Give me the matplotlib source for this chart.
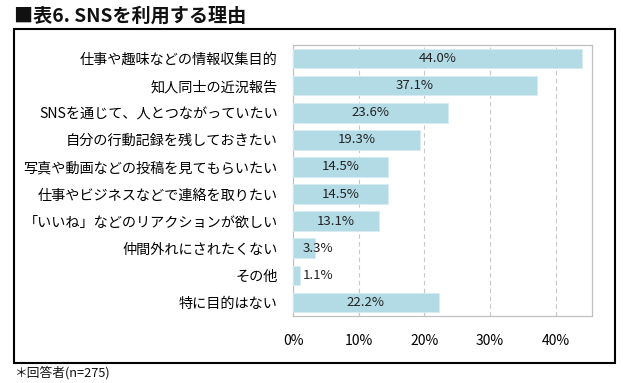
import matplotlib
matplotlib.use("Agg")
import matplotlib.pyplot as plt
from matplotlib.patches import Rectangle

plt.rcParams['font.family'] = ['Noto Sans CJK JP', 'DejaVu Sans']

categories = [
    "仕事や趣味などの情報収集目的",
    "知人同士の近況報告",
    "SNSを通じて、人とつながっていたい",
    "自分の行動記録を残しておきたい",
    "写真や動画などの投稿を見てもらいたい",
    "仕事やビジネスなどで連絡を取りたい",
    "「いいね」などのリアクションが欲しい",
    "仲間外れにされたくない",
    "その他",
    "特に目的はない",
]
values = [44.0, 37.1, 23.6, 19.3, 14.5, 14.5, 13.1, 3.3, 1.1, 22.2]
xticks = [0, 10, 20, 30, 40]
xticklabels = ["0%", "10%", "20%", "30%", "40%"]

W, H = 623, 383
fig = plt.figure(figsize=(W / 100, H / 100), dpi=100)
ax = fig.add_axes([293 / W, 1 - 316 / H, 299 / W, 271 / H])

y = list(range(len(categories)))
ax.barh(y, values, height=0.72, color='#b2dbe6', edgecolor='#d6edf3', linewidth=0.6, zorder=3)
ax.set_ylim(len(categories) - 0.5, -0.5)
ax.set_xlim(0, 45.5)
ax.set_yticks(y)
ax.set_yticklabels(categories, fontsize=10.2)
ax.set_xticks(xticks)
ax.set_xticklabels(xticklabels, fontsize=10)
ax.tick_params(axis='both', length=0)
ax.tick_params(axis='y', pad=11)
ax.tick_params(axis='x', pad=13)
for xv in xticks[1:]:
    ax.axvline(xv, color='#c8c8c8', linestyle=(0, (4, 3)), linewidth=0.8, zorder=1)
for s in ax.spines.values():
    s.set_color('#c0c0c0')
    s.set_linewidth(0.9)

for yi, v in zip(y, values):
    xpos = max(v / 2, 3.8)
    ax.text(xpos, yi, f"{v:.1f}%", ha='center', va='center', fontsize=9.5, color='#222222', zorder=4)

fig.patches.append(Rectangle((14 / W, 1 - 363 / H), 601 / W, 334 / H, transform=fig.transFigure,
                             fill=False, edgecolor='black', linewidth=1.5))
fig.text(14 / W, 1 - 16 / H, "■表6. SNSを利用する理由", fontsize=13.8, fontweight='bold',
         ha='left', va='center', color='#111111')
fig.text(14 / W, 1 - 373 / H, "＊回答者(n=275)", fontsize=9.2, ha='left', va='center', color='#111111')

fig.savefig("out.png", dpi=100)
